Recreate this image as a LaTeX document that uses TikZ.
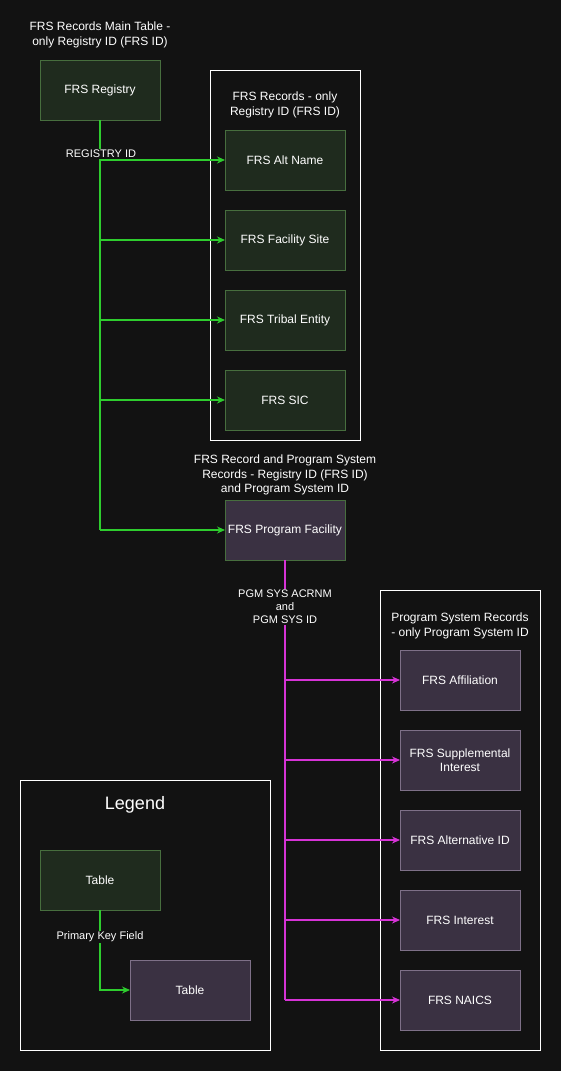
\documentclass[tikz,border=0pt]{standalone}
\usepackage{fontspec}
\setmainfont{Liberation Sans}
\usepackage{xcolor}
\usepackage{tikz}
\usetikzlibrary{positioning,arrows.meta}
\definecolor{bgdark}{HTML}{121212}
\definecolor{regfill}{HTML}{1F2B1E}
\definecolor{regedge}{HTML}{476E3E}
\definecolor{pgmfill}{HTML}{3A3142}
\definecolor{pgmedge}{HTML}{7E7088}
\definecolor{reglink}{HTML}{2ECC2E}
\definecolor{pgmlink}{HTML}{D633D6}
\def\boxfont{\fontsize{12}{14.5}\selectfont}
\def\keyfont{\fontsize{11}{13}\selectfont}
\tikzset{
  regtable/.style={draw=regedge, fill=regfill, text=white, line width=0.8pt,
    minimum width=120pt, minimum height=60pt, inner sep=0pt, outer sep=0pt,
    align=center, font=\boxfont},
  pgmtable/.style={regtable, draw=pgmedge, fill=pgmfill},
  groupbox/.style={draw=white, line width=0.8pt, inner sep=0pt, outer sep=0pt},
  heading/.style={text=white, align=center, font=\boxfont, inner sep=0pt},
  keylabel/.style={text=white, fill=bgdark, align=center, font=\keyfont, inner sep=1pt},
  reglinkline/.style={draw=reglink, line width=1.1pt, -{Stealth[length=8pt,width=7pt]}},
  pgmlinkline/.style={draw=pgmlink, line width=1.1pt, -{Stealth[length=8pt,width=7pt]}}
}
\begin{document}
\begin{tikzpicture}[x=1pt, y=-1pt]

  \fill[bgdark] (0,0) rectangle (561,1071);
  \useasboundingbox (0,0) rectangle (561,1071);

  % registry side
  \node[heading] (mainhead) at (100,35) {FRS Records Main Table -\\only Registry ID (FRS ID)};
  \node[regtable] (registry) at (100,90) {FRS Registry};

  \node[groupbox, minimum width=150pt, minimum height=370pt] (reggroup) at (285,255) {};
  \node[heading] (reghead) at (285,105) {FRS Records - only\\Registry ID (FRS ID)};
  \node[regtable] (altname) at (285,160) {FRS Alt Name};
  \node[regtable, below=20pt of altname] (facsite) {FRS Facility Site};
  \node[regtable, below=20pt of facsite] (tribal) {FRS Tribal Entity};
  \node[regtable, below=20pt of tribal] (sic) {FRS SIC};

  \node[heading] (progfachead) at (285,475) {FRS Record and Program System\\Records - Registry ID (FRS ID)\\and Program System ID};
  \node[pgmtable, draw=regedge] (progfac) at (285,530) {FRS Program Facility};

  \coordinate (regtrunk) at (registry.south |- progfac);
  \draw[draw=reglink, line width=1.1pt] (registry.south) -- (regtrunk);
  \draw[reglinkline] (registry.south |- altname) -- (altname.west);
  \draw[reglinkline] (registry.south |- facsite) -- (facsite.west);
  \draw[reglinkline] (registry.south |- tribal) -- (tribal.west);
  \draw[reglinkline] (registry.south |- sic) -- (sic.west);
  \draw[reglinkline] (regtrunk) -- (progfac.west);
  \node[keylabel] (regkey) at (101,154) {REGISTRY ID};

  % program system side
  \node[groupbox, minimum width=160pt, minimum height=460pt] (pgmgroup) at (460,820) {};
  \node[heading] (pgmhead) at (460,626) {Program System Records\\- only Program System ID};
  \node[pgmtable] (affil) at (460,680) {FRS Affiliation};
  \node[pgmtable, below=20pt of affil] (supp) {FRS Supplemental\\Interest};
  \node[pgmtable, below=20pt of supp] (altid) {FRS Alternative ID};
  \node[pgmtable, below=20pt of altid] (interest) {FRS Interest};
  \node[pgmtable, below=20pt of interest] (naics) {FRS NAICS};

  \draw[draw=pgmlink, line width=1.1pt] (progfac.south) -- (progfac.south |- naics);
  \draw[pgmlinkline] (progfac.south |- affil) -- (affil.west);
  \draw[pgmlinkline] (progfac.south |- supp) -- (supp.west);
  \draw[pgmlinkline] (progfac.south |- altid) -- (altid.west);
  \draw[pgmlinkline] (progfac.south |- interest) -- (interest.west);
  \draw[pgmlinkline] (progfac.south |- naics) -- (naics.west);
  \node[keylabel] (pgmkey) at (285,607) {PGM SYS ACRNM\\and\\PGM SYS ID};

  % legend
  \node[groupbox, minimum width=250pt, minimum height=270pt] (legend) at (145,915) {};
  \node[text=white, font=\fontsize{18}{20}\selectfont, inner sep=0pt] (legendhead) at (135,805) {Legend};
  \node[regtable] (legreg) at (100,880) {Table};
  \node[pgmtable] (legpgm) at (190,990) {Table};
  \draw[reglinkline] (legreg.south) |- (legpgm.west);
  \node[keylabel] (legkey) at (100,937) {Primary Key Field};

\end{tikzpicture}
\end{document}
